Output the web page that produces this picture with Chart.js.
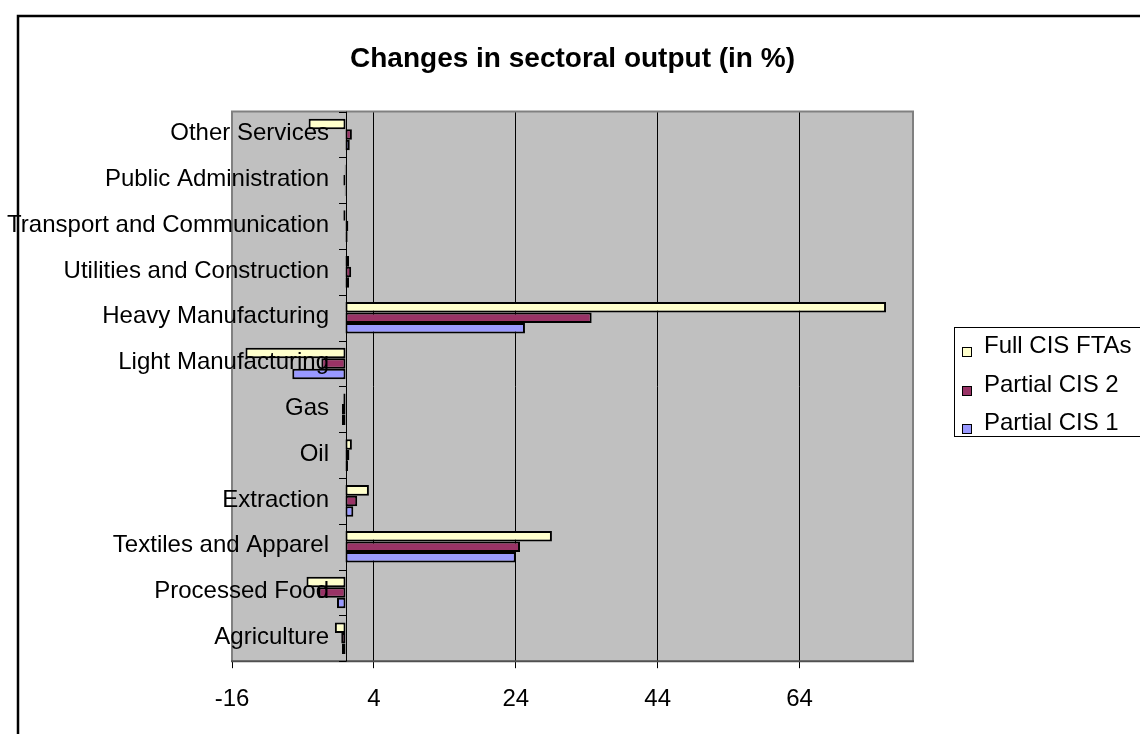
<!DOCTYPE html>
<html>
<head>
<meta charset="utf-8">
<title>Changes in sectoral output</title>
<script src="https://cdn.jsdelivr.net/npm/chart.js@4.4.1/dist/chart.umd.min.js"></script>
<style>
  html, body { margin: 0; padding: 0; background: #ffffff; }
  canvas { display: block; }
</style>
</head>
<body>
<canvas id="chart" width="1140" height="734"></canvas>
<script>
// Sectors, listed from the bottom of the chart to the top
const sectors = [
  'Agriculture',
  'Processed Food',
  'Textiles and Apparel',
  'Extraction',
  'Oil',
  'Gas',
  'Light Manufacturing',
  'Heavy Manufacturing',
  'Utilities and Construction',
  'Transport and Communication',
  'Public Administration',
  'Other Services'
];

// Change in output, percent
const fullCisFtas  = [-1.5, -5.5, 29.1, 3.3, 0.9, -0.3, -14.1, 76.2, 0.5, -0.3, -0.1, -5.2];
const partialCis2  = [-0.6, -3.8, 24.6, 1.65, 0.55, -0.5, -3.4, 34.7, 0.8, 0.4, -0.3, 0.9];
const partialCis1  = [-0.5, -1.2, 24.0, 1.1, 0.35, -0.5, -7.5, 25.3, 0.5, 0.3, -0.1, 0.6];

const seriesNames  = ['Full CIS FTAs', 'Partial CIS 2', 'Partial CIS 1'];
const seriesColors = ['#FFFFCC', '#993366', '#9999FF'];

const xTicks = [-16, 4, 24, 44, 64];
const xMin = -16;
const xMax = 80;

const FONT = "'Liberation Sans', Arial, Helvetica, sans-serif";

// Grey plot area, frames, category axis at zero, sector labels and legend box
const decorations = {
  id: 'decorations',
  beforeDraw(chart) {
    const { ctx, chartArea: a } = chart;
    ctx.save();
    ctx.fillStyle = '#ffffff';
    ctx.fillRect(0, 0, chart.width, chart.height);
    ctx.fillStyle = '#C0C0C0';
    ctx.fillRect(a.left, a.top, a.right - a.left, a.bottom - a.top);
    // outer chart frame
    ctx.strokeStyle = '#000000';
    ctx.lineWidth = 2.5;
    ctx.strokeRect(18, 16, chart.width + 40, chart.height + 40);
    ctx.restore();
  },
  beforeDatasetsDraw(chart) {
    const { ctx, chartArea: a } = chart;
    ctx.save();
    ctx.strokeStyle = '#808080';
    ctx.lineWidth = 2;
    ctx.beginPath();
    ctx.moveTo(a.left, a.bottom);
    ctx.lineTo(a.left, a.top);
    ctx.lineTo(a.right, a.top);
    ctx.lineTo(a.right, a.bottom);
    ctx.stroke();
    ctx.strokeStyle = '#505050';
    ctx.beginPath();
    ctx.moveTo(a.left - 1, a.bottom);
    ctx.lineTo(a.right + 1, a.bottom);
    ctx.stroke();
    ctx.restore();
  },
  afterDatasetsDraw(chart) {
    const { ctx, chartArea: a, scales } = chart;
    const x0 = scales.x.getPixelForValue(0);
    ctx.save();
    // category axis crossing at zero
    ctx.strokeStyle = '#000000';
    ctx.lineWidth = 1;
    ctx.beginPath();
    ctx.moveTo(Math.round(x0) + 0.5, a.top);
    ctx.lineTo(Math.round(x0) + 0.5, a.bottom);
    const n = sectors.length;
    const step = (a.bottom - a.top) / n;
    for (let i = 0; i <= n; i++) {
      const y = Math.round(a.top + i * step) + 0.5;
      ctx.moveTo(Math.round(x0) - 7, y);
      ctx.lineTo(Math.round(x0) + 0.5, y);
    }
    ctx.stroke();

    // sector labels, right-aligned just left of the zero axis
    ctx.fillStyle = '#000000';
    ctx.font = '24px ' + FONT;
    ctx.textAlign = 'right';
    ctx.textBaseline = 'middle';
    sectors.forEach((name, i) => {
      ctx.fillText(name, 329, scales.y.getPixelForValue(i) - 1);
    });
    ctx.restore();
  },
  afterDraw(chart) {
    const { ctx } = chart;
    ctx.save();
    // legend box
    ctx.strokeStyle = '#000000';
    ctx.lineWidth = 1;
    ctx.strokeRect(954.5, 327.5, 260, 109);
    ctx.font = '24px ' + FONT;
    ctx.textAlign = 'left';
    ctx.textBaseline = 'middle';
    const rows = [346, 385, 423];
    chart.data.datasets.forEach((ds, i) => {
      const y = rows[i];
      ctx.fillStyle = ds.backgroundColor;
      ctx.fillRect(962, y + 1, 9, 9);
      ctx.strokeStyle = '#000000';
      ctx.strokeRect(962.5, y + 1.5, 9, 9);
      ctx.fillStyle = '#000000';
      ctx.fillText(ds.label, 984, y);
    });
    ctx.restore();
  }
};

const seriesValues = [fullCisFtas, partialCis2, partialCis1];

new Chart(document.getElementById('chart'), {
  type: 'bar',
  data: {
    labels: sectors,
    datasets: seriesNames.map((name, i) => ({
      label: name,
      data: seriesValues[i],
      backgroundColor: seriesColors[i],
      borderColor: '#000000',
      borderWidth: 2,
      borderSkipped: false,
      categoryPercentage: 0.69,
      barPercentage: 1.0
    }))
  },
  options: {
    indexAxis: 'y',
    responsive: false,
    animation: false,
    devicePixelRatio: 1,
    events: [],
    layout: {
      padding: { left: 232, right: 227, top: 0, bottom: 3 }
    },
    scales: {
      x: {
        type: 'linear',
        min: xMin,
        max: xMax,
        afterBuildTicks: axis => { axis.ticks = xTicks.map(v => ({ value: v })); },
        grid: {
          color: c => (c.tick && c.tick.value === xMin) ? 'rgba(0,0,0,0)' : '#000000',
          tickColor: '#000000',
          lineWidth: 1,
          tickLength: 7,
          drawTicks: true
        },
        border: { display: false },
        ticks: {
          color: '#000000',
          padding: 17,
          font: { family: FONT, size: 24 },
          maxRotation: 0
        }
      },
      y: {
        type: 'category',
        reverse: true,
        display: false
      }
    },
    plugins: {
      legend: { display: false },
      tooltip: { enabled: false },
      title: {
        display: true,
        text: 'Changes in sectoral output (in %)',
        color: '#000000',
        font: { family: FONT, size: 28, weight: 'bold' },
        padding: { top: 42, bottom: 36 }
      }
    }
  },
  plugins: [decorations]
});
</script>
</body>
</html>
